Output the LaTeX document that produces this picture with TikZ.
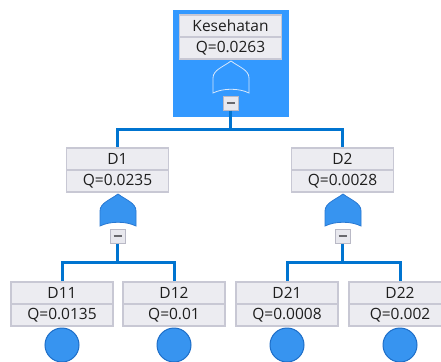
\documentclass[tikz,border=0pt]{standalone}
\usepackage{fontspec}
\setmainfont{Open Sans}
\definecolor{selblue}{RGB}{51,153,255}
\definecolor{wireblue}{RGB}{0,116,208}
\definecolor{boxfill}{RGB}{236,236,241}
\definecolor{boxline}{RGB}{200,200,212}
\definecolor{txt}{RGB}{30,30,30}
\definecolor{gatefill}{RGB}{55,148,240}
\definecolor{gateline}{RGB}{40,120,210}
\definecolor{minusfill}{RGB}{232,232,238}
\definecolor{minusline}{RGB}{185,185,198}
\definecolor{dashgray}{RGB}{105,105,110}
\definecolor{evfill}{RGB}{55,148,240}
\definecolor{evline}{RGB}{30,110,200}
\begin{document}
\begin{tikzpicture}[x=1pt,y=-1pt,
  cell/.style={draw=boxline, fill=boxfill, line width=1.5pt, minimum width=102pt,
    minimum height=22pt, inner sep=0pt, font=\fontsize{15.5}{18}\selectfont, text=txt},
  minusbox/.style={draw=minusline, fill=minusfill, line width=1pt, minimum width=15pt,
    minimum height=14pt, inner sep=0pt,
    path picture={\draw[line width=2pt, dashgray]
      ([xshift=-4pt]path picture bounding box.center) --
      ([xshift=4pt]path picture bounding box.center);}},
  wire/.style={draw=wireblue, line width=3pt},
  event/.style={circle, draw=evline, fill=evfill, line width=1pt, minimum size=34pt, inner sep=0pt},
  orgate/.pic={\path[pic actions] (-18,32) -- (-18,17) .. controls (-18,9) and (-8,6) .. (0,0)
     .. controls (8,6) and (18,9) .. (18,17) -- (18,32) .. controls (8,27) and (-8,27) .. cycle;}
]
\clip (0,0) rectangle (441,361);
\fill[white] (0,0) rectangle (441,361);
% selection
\node[fill=selblue, minimum width=116pt, minimum height=107pt, inner sep=0pt] (sel) at (231,63.5) {};
% top event
\node[cell] (k0) at (230.5,26) {Kesehatan};
\node[cell] (q0) at (230.5,48) {Q=0.0263};
\pic[fill=selblue, draw={rgb,255:red,215;green,232;blue,252}, line width=0.8pt] at (231,61) {orgate};
\node[minusbox] (m0) at (230.5,103) {};
% level 1
\node[cell] (k1) at (117.5,159) {D1};
\node[cell] (q1) at (117.5,181) {Q=0.0235};
\pic[fill=gatefill, draw=gateline, line width=0.8pt] at (118,194) {orgate};
\node[minusbox] (m1) at (117.5,236) {};
\node[cell] (k2) at (342.5,159) {D2};
\node[cell] (q2) at (342.5,181) {Q=0.0028};
\pic[fill=gatefill, draw=gateline, line width=0.8pt] at (343,194) {orgate};
\node[minusbox] (m2) at (342.5,236) {};
% level 2
\node[cell] (k11) at (62,293) {D11};
\node[cell] (q11) at (62,315) {Q=0.0135};
\node[cell] (k12) at (174,293) {D12};
\node[cell] (q12) at (174,315) {Q=0.01};
\node[cell] (k21) at (287,293) {D21};
\node[cell] (q21) at (287,315) {Q=0.0008};
\node[cell] (k22) at (400,293) {D22};
\node[cell] (q22) at (400,315) {Q=0.002};
\node[event] (e11) at (62,345) {};
\node[event] (e12) at (174,345) {};
\node[event] (e21) at (287,345) {};
\node[event] (e22) at (400,345) {};
% wires
\coordinate (j0) at (230.5,129);
\coordinate (j1) at (117.5,262);
\coordinate (j2) at (342.5,262);
\draw[wire] (m0.south) -- (j0);
\draw[wire] (j0) -| (k1.north);
\draw[wire] (j0) -| (k2.north);
\draw[wire] (m1.south) -- (j1);
\draw[wire] (j1) -| (k11.north);
\draw[wire] (j1) -| (k12.north);
\draw[wire] (m2.south) -- (j2);
\draw[wire] (j2) -| (k21.north);
\draw[wire] (j2) -| (k22.north);
\end{tikzpicture}
\end{document}
